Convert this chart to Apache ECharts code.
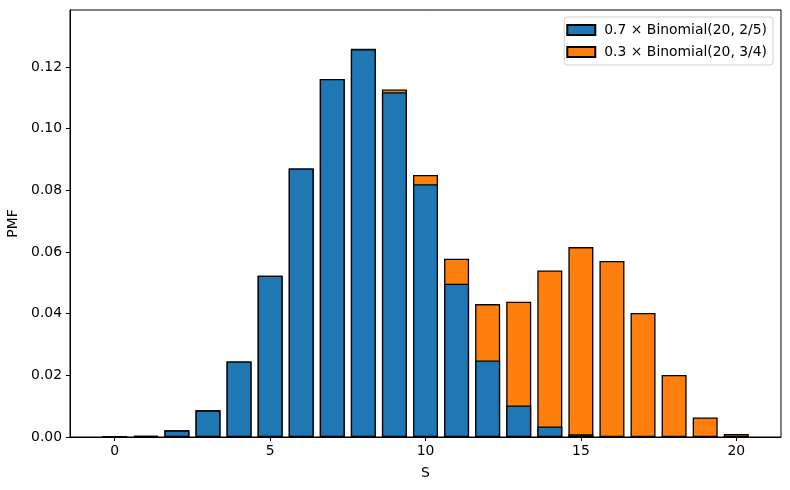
<!DOCTYPE html>
<html>
<head>
<meta charset="utf-8">
<script src="https://cdn.jsdelivr.net/npm/echarts@6/dist/echarts.min.js"></script>
<style>
  html, body { margin: 0; padding: 0; background: #fff; }
  #main { width: 790px; height: 490px; }
</style>
</head>
<body>
<div id="main"></div>
<script>
// values (S = 0..20)
var sValues = [0, 1, 2, 3, 4, 5, 6, 7, 8, 9, 10, 11, 12, 13, 14, 15, 16, 17, 18, 19, 20];
var binomA = [0.00003, 0.00034, 0.00216, 0.00865, 0.0245, 0.0523, 0.0871, 0.1161, 0.1258, 0.1118,
              0.0820, 0.0497, 0.0248, 0.0102, 0.0034, 0.0009, 0.0002, 0.00003, 0, 0, 0];
var binomB = [0, 0, 0, 0, 0, 0, 0, 0.00002, 0.0001, 0.0009,
              0.0030, 0.0081, 0.0183, 0.0337, 0.0506, 0.0607, 0.0569, 0.0402, 0.0201, 0.00634, 0.00095];
var xTicks = [0, 5, 10, 15, 20];
var yTicks = [0, 0.02, 0.04, 0.06, 0.08, 0.10, 0.12];
var names = ['0.7 × Binomial(20, 2/5)', '0.3 × Binomial(20, 3/4)'];

var chart = echarts.init(document.getElementById('main'));
var font = 'DejaVu Sans';
var fs = 13.9;

// stacking does not work on a value x axis, so the orange bar is drawn
// to the total height and the blue one is laid over it
var blueData = sValues.map(function (s, i) { return [s, binomA[i]]; });
var totalData = sValues.map(function (s, i) { return [s, binomA[i] + binomB[i]]; });

var option = {
  animation: false,
  backgroundColor: '#ffffff',
  textStyle: { fontFamily: font },
  grid: {
    left: 70, right: 9, top: 10, bottom: 53,
    outerBoundsMode: 'none',
    show: true, borderColor: '#000', borderWidth: 1
  },
  legend: {
    right: 17, top: 17,
    orient: 'vertical',
    icon: 'rect',
    itemWidth: 28, itemHeight: 10, itemGap: 8,
    padding: [6, 6, 6, 2],
    borderColor: '#d0d0d0', borderWidth: 1, borderRadius: 3,
    backgroundColor: 'rgba(255,255,255,0.8)',
    textStyle: { fontFamily: font, fontSize: fs, color: '#000', padding: [0, 0, 0, 4] },
    data: names
  },
  xAxis: {
    type: 'value',
    min: -1.44, max: 21.44,
    name: 'S', nameLocation: 'middle', nameGap: 29,
    nameTextStyle: { fontFamily: font, fontSize: fs, color: '#000' },
    axisLine: { onZero: false, lineStyle: { color: '#000' } },
    axisTick: { show: true, customValues: xTicks, length: 4, lineStyle: { color: '#000' } },
    axisLabel: { customValues: xTicks, fontFamily: font, fontSize: fs, color: '#000', margin: 7 },
    splitLine: { show: false }
  },
  yAxis: {
    type: 'value',
    min: 0, max: 0.1385,
    name: 'PMF', nameLocation: 'middle', nameGap: 47,
    nameTextStyle: { fontFamily: font, fontSize: fs, color: '#000' },
    axisLine: { show: true, onZero: false, lineStyle: { color: '#000' } },
    axisTick: { show: true, customValues: yTicks, length: 4, lineStyle: { color: '#000' } },
    axisLabel: {
      customValues: yTicks, fontFamily: font, fontSize: fs, color: '#000', margin: 8,
      formatter: function (v) { return v.toFixed(2); }
    },
    splitLine: { show: false }
  },
  series: [
    {
      name: names[1], type: 'bar', barWidth: 25, barGap: '-100%', z: 2,
      itemStyle: { color: '#ff7f0e', borderColor: '#000', borderWidth: 1.3 },
      data: totalData
    },
    {
      name: names[0], type: 'bar', barWidth: 25, barGap: '-100%', z: 3,
      itemStyle: { color: '#1f77b4', borderColor: '#000', borderWidth: 1.3 },
      data: blueData
    }
  ]
};

chart.setOption(option);
</script>
</body>
</html>
